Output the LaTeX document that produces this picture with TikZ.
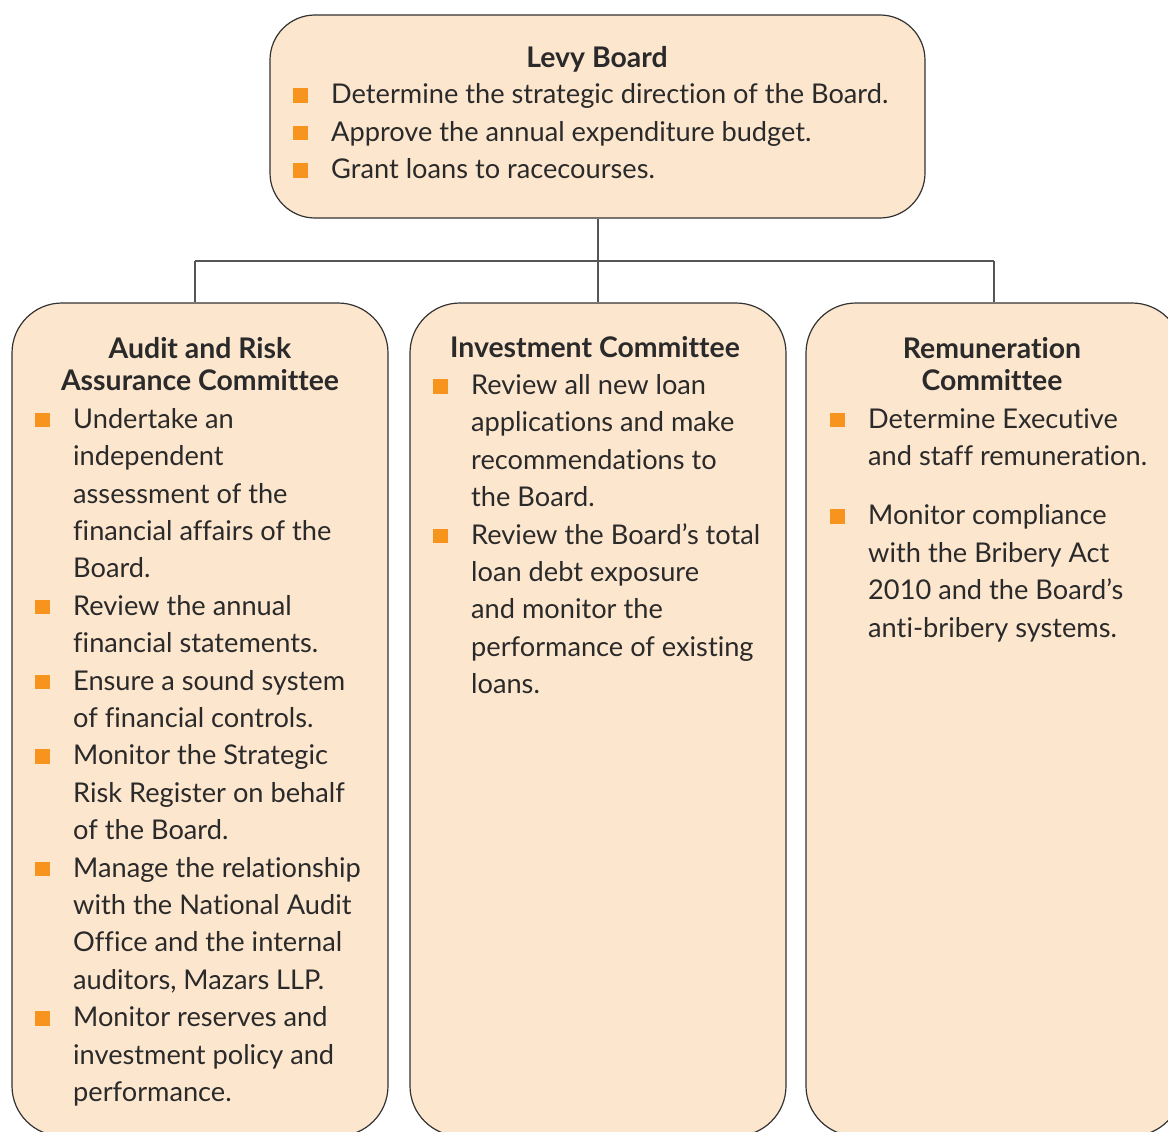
\documentclass[tikz,border=0pt]{standalone}
\usepackage{fontspec}
\setmainfont[Ligatures=NoCommon]{Lato}
\definecolor{lbFill}{HTML}{FDE6CE}
\definecolor{lbEdge}{HTML}{333333}
\definecolor{lbLine}{HTML}{555555}
\definecolor{lbText}{HTML}{2A2A2A}
\definecolor{lbBullet}{HTML}{F7941D}
\usetikzlibrary{positioning}
\newcommand\bul{\llap{\textcolor{lbBullet}{\rule[1pt]{15pt}{14.5pt}}\hspace{23pt}}}

\begin{document}
\begin{tikzpicture}[x=1pt, y=-1pt,
  board/.style={draw=lbEdge, fill=lbFill, line width=1.2pt, rounded corners=45pt,
    minimum width=655pt, minimum height=203pt},
  committee/.style={draw=lbEdge, fill=lbFill, line width=1.2pt, rounded corners=50pt,
    minimum width=376pt, minimum height=833pt},
  heading/.style={font=\fontsize{28.4}{31.5}\selectfont\bfseries, text=lbText,
    align=center, inner sep=0pt, anchor=base},
  body/.style={font=\fontsize{27.2}{37.4}\selectfont, text=lbText,
    align=left, inner sep=0pt, anchor=base west},
  link/.style={draw=lbLine, line width=2pt}
]
  \useasboundingbox (0,0) rectangle (1168,1132);
  \clip (0,0) rectangle (1168,1132);

  % boxes
  \node[board] (levy) at (597.5,116.5) {};
  \node[committee] (audit) at (200,719.5) {};
  \node[committee] (invest) at (598,719.5) {};
  \node[committee] (remun) at (994,719.5) {};

  % connectors
  \coordinate (busL) at (195,261);
  \coordinate (busR) at (994,261);
  \draw[link] (levy.south) -- (levy.south |- invest.north);
  \draw[link] (busL) -- (busR);
  \draw[link] (busL) -- (busL |- audit.north);
  \draw[link] (busR) -- (busR |- remun.north);

  % Levy Board (base = last line)
  \node[heading] (levyhead) at (597,67.5) {Levy Board};
  \node[body] (levytext) at (331,178.5) {\bul Determine the strategic direction of the Board.\\
    \bul Approve the annual expenditure budget.\\
    \bul Grant loans to racecourses.};

  % Audit and Risk Assurance Committee
  \node[heading] (audithead) at (200,390) {Audit and Risk\\Assurance Committee};
  \node[body] (audittext) at (73,1101.5) {\bul Undertake an\\independent\\assessment of the\\financial affairs of the\\Board.\\
    \bul Review the annual\\financial statements.\\
    \bul Ensure a sound system\\of financial controls.\\
    \bul Monitor the Strategic\\Risk Register on behalf\\of the Board.\\
    \bul Manage the relationship\\with the National Audit\\Office and the internal\\auditors, Mazars LLP.\\
    \bul Monitor reserves and\\investment policy and\\performance.};

  % Investment Committee
  \node[heading] (investhead) at (595,357.5) {Investment Committee};
  \node[body] (investtext) at (471,693.7) {\bul Review all new loan\\applications and make\\recommendations to\\the Board.\\
    \bul Review the Board’s total\\loan debt exposure\\and monitor the\\performance of existing\\loans.};

  % Remuneration Committee
  \node[heading] (remunhead) at (992,390) {Remuneration\\Committee};
  \node[body] (remuntext) at (868,637) {\bul Determine Executive\\and staff remuneration.\\[21.6pt]
    \bul Monitor compliance\\with the Bribery Act\\2010 and the Board’s\\anti-bribery systems.};
\end{tikzpicture}
\end{document}
